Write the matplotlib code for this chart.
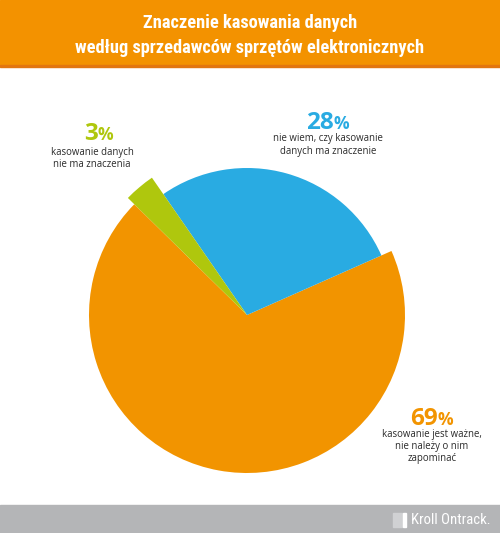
import matplotlib
matplotlib.use("Agg")
from matplotlib import pyplot as plt
from matplotlib.patches import Rectangle

# data
labels = ["kasowanie jest ważne,\nnie należy o nim\nzapominać",
          "nie wiem, czy kasowanie\ndanych ma znaczenie",
          "kasowanie danych\nnie ma znaczenia"]
values = [69, 28, 3]
colors = ["#f29400", "#29abe2", "#afc70d"]
radii = [158, 147, 167]
title = "Znaczenie kasowania danych\nwedług sprzedawców sprzętów elektronicznych"

W, H = 500, 533
plt.rcParams['font.family'] = ['Open Sans', 'DejaVu Sans']
narrow = ['Roboto Condensed', 'Open Sans', 'DejaVu Sans']

fig = plt.figure(figsize=(W / 100, H / 100), dpi=100)
ax = fig.add_axes([0, 0, 1, 1])

# pie, center given in pixel coords (y measured from bottom)
cx, cy = 247, H - 315
wedges, _ = ax.pie(values, colors=colors, startangle=135.5,
                   center=(cx, cy), radius=radii[0],
                   wedgeprops=dict(linewidth=0))
for w, r in zip(wedges, radii):
    w.set_radius(r)
ax.set_xlim(0, W)
ax.set_ylim(0, H)
ax.set_aspect("auto")
ax.axis("off")

# header band
ax.add_patch(Rectangle((0, H - 65), W, 65, color="#f39200", zorder=0))
ax.add_patch(Rectangle((0, H - 67), W, 2.5, color="#e2760f", zorder=1))
ax.text(W / 2, H - 35.5, title, ha="center", va="center", color="white",
        fontsize=13.2, fontweight="bold", linespacing=1.5, family=narrow)

# footer band
ax.add_patch(Rectangle((0, 0), W, H - 505, color="#b4b5b7", zorder=0))
ax.add_patch(Rectangle((393, H - 527), 9, 14, color="#d0d1d3", zorder=1))
ax.add_patch(Rectangle((403, H - 527), 2.5, 14, color="white", zorder=1))
ax.text(411, H - 520, "Kroll Ontrack.", ha="left", va="center",
        color="white", fontsize=10.6, family=narrow)

# slice labels: (x, baseline y of percentage, y of description)
label_pos = [(432, 425, 446.5), (328, 129, 145), (92, 140, 158.5)]
for (x, yp, yd), v, lab, c in zip(label_pos, values, labels, colors):
    ax.text(x + 6, H - yp, str(v), ha="right", va="baseline", color=c,
            fontsize=17.5, fontweight="bold")
    ax.text(x + 6, H - yp, "%", ha="left", va="baseline", color=c,
            fontsize=12.5, fontweight="bold")
    ax.text(x, H - yd, lab, ha="center", va="center", color="#2b2b2b",
            fontsize=6.9, linespacing=1.15)

fig.savefig("out.png", dpi=100)
